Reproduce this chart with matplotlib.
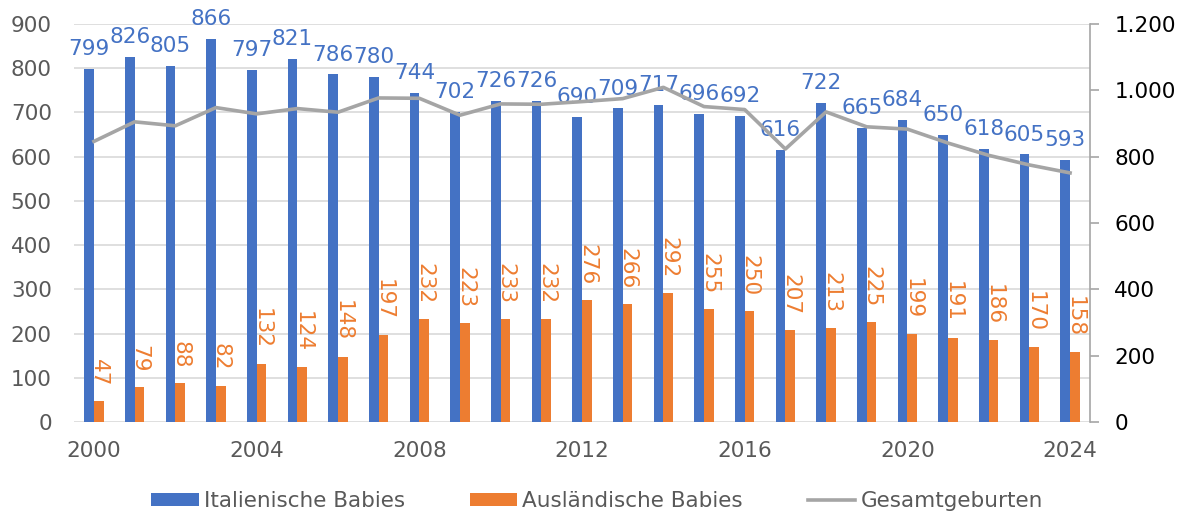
import numpy as np
import matplotlib.pyplot as plt

years = list(range(2000, 2025))
italienisch = [799, 826, 805, 866, 797, 821, 786, 780, 744, 702, 726, 726, 690,
               709, 717, 696, 692, 616, 722, 665, 684, 650, 618, 605, 593]
auslaendisch = [47, 79, 88, 82, 132, 124, 148, 197, 232, 223, 233, 232, 276,
                266, 292, 255, 250, 207, 213, 225, 199, 191, 186, 170, 158]
gesamt = [846, 905, 893, 948, 929, 945, 934, 977, 976, 925, 959, 958, 966,
          975, 1009, 951, 942, 823, 935, 890, 883, 841, 804, 775, 751]

blue = '#4472C4'
orange = '#ED7D31'
grey = '#A5A5A5'
txt = '#595959'
fs = 15.5

fig = plt.figure(figsize=(11.94, 5.15), dpi=100)
ax = fig.add_axes([0.062, 0.1806, 0.8509, 0.7728])
ax2 = ax.twinx()

x = np.arange(len(years))
w = 0.24
b1 = ax.bar(x - w / 2, italienisch, w, color=blue, label='Italienische Babies', zorder=3)
b2 = ax.bar(x + w / 2, auslaendisch, w, color=orange, label='Ausländische Babies', zorder=3)

# Beschriftungen
for xi, v in zip(x, italienisch):
    ax.text(xi - w / 2, v + 22, str(v), ha='center', va='bottom', color=blue, fontsize=fs, zorder=5)
for xi, v in zip(x, auslaendisch):
    ax.text(xi + w / 2, v + 34, str(v), ha='center', va='bottom', color=orange, fontsize=fs,
            rotation=270, zorder=5)

ln, = ax2.plot(x, gesamt, color=grey, lw=2.6, label='Gesamtgeburten', zorder=4)

ax.set_xlim(-0.49, len(years) - 0.51)
ax.set_ylim(0, 900)
ax.set_yticks(range(0, 1000, 100))
ax2.set_ylim(0, 1200)
ax2.set_yticks(range(0, 1400, 200))
ax2.set_yticklabels(['0', '200', '400', '600', '800', '1.000', '1.200'])

ax.set_xticks(x[::4])
ax.set_xticklabels([str(y) for y in years[::4]])

ax.grid(axis='y', color='#D9D9D9', lw=1.2, zorder=0)
ax.set_axisbelow(True)
for s in ['top', 'left', 'right', 'bottom']:
    ax.spines[s].set_visible(False)
for s in ['top', 'left', 'bottom']:
    ax2.spines[s].set_visible(False)
ax2.spines['right'].set_color('#A6A6A6')
ax2.spines['right'].set_linewidth(1.2)

ax.tick_params(axis='y', length=0, labelsize=fs, labelcolor=txt, pad=16)
ax.tick_params(axis='x', length=0, labelsize=fs, labelcolor=txt, pad=14)
ax2.tick_params(axis='y', length=6.5, width=1.2, color='#A6A6A6', labelsize=fs,
                labelcolor='black', pad=11)

fig.legend([b1, b2, ln], ['Italienische Babies', 'Ausländische Babies', 'Gesamtgeburten'],
           loc='center', bbox_to_anchor=(0.5, 0.027), ncol=3, frameon=False,
           fontsize=fs, labelcolor=txt, handlelength=2.2, handleheight=0.5,
           columnspacing=3.0, handletextpad=0.25)

fig.savefig('out.png', dpi=100)
